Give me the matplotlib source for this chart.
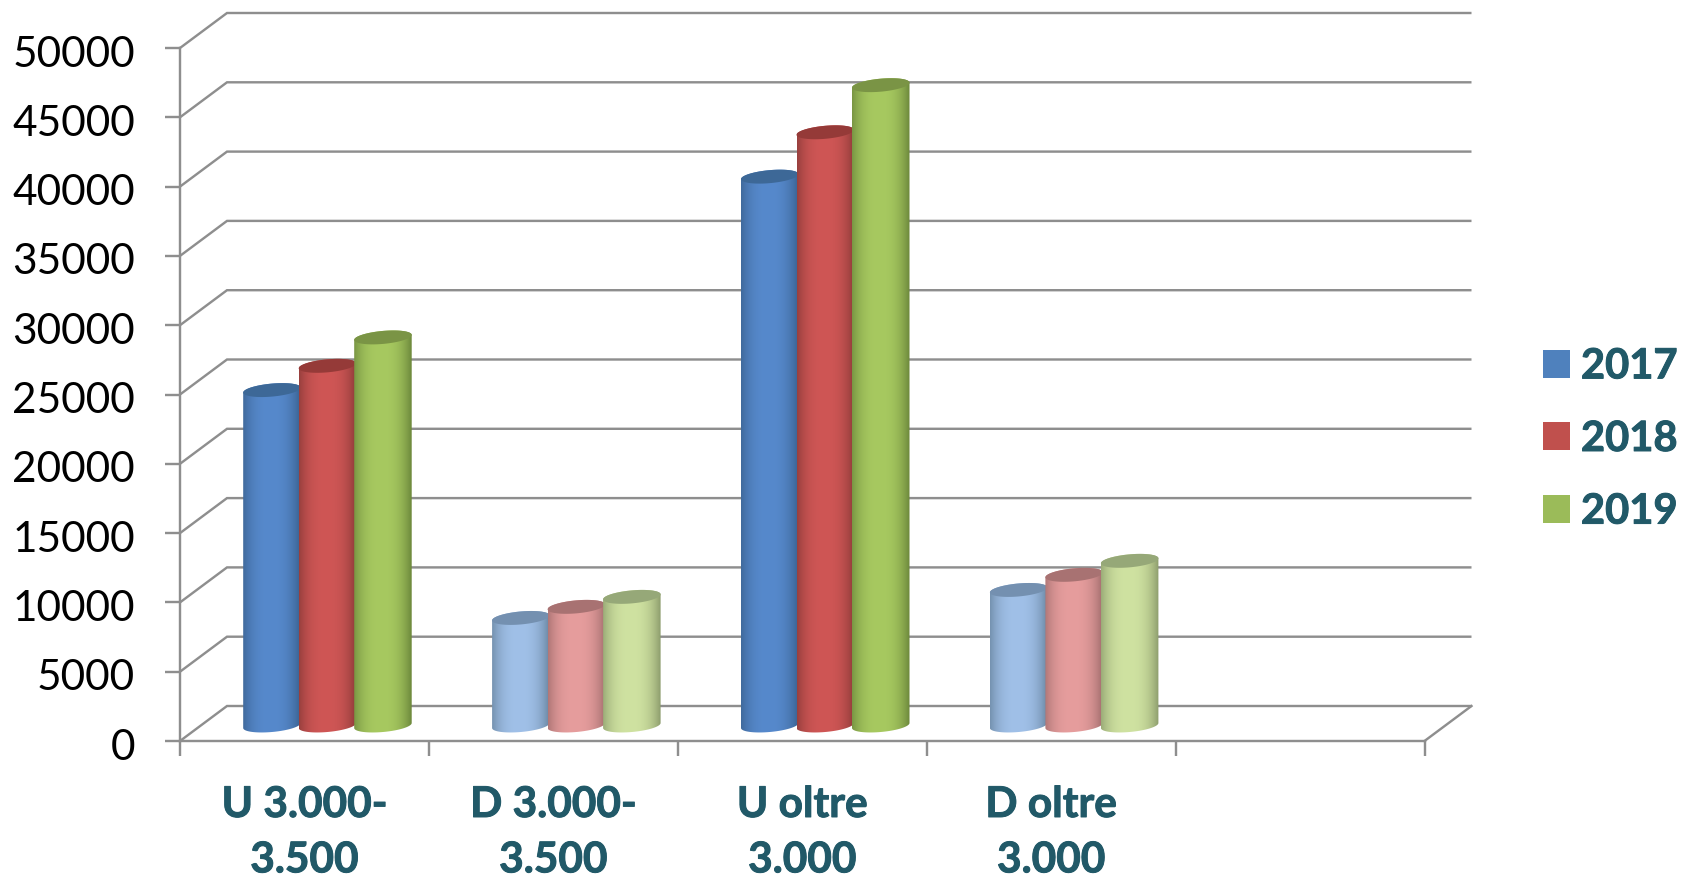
import numpy as np
import matplotlib
matplotlib.use("Agg")
import matplotlib.pyplot as plt
import matplotlib.patheffects as pe
from matplotlib.patches import Polygon, Patch
from matplotlib.transforms import ScaledTranslation

categories = ["U 3.000-\n3.500", "D 3.000-\n3.500", "U oltre\n3.000", "D oltre\n3.000", ""]
years = ["2017", "2018", "2019"]
values_2017 = [24200, 7760, 39600, 9780]
values_2018 = [25950, 8560, 42800, 10870]
values_2019 = [28000, 9280, 46200, 11880]
y_ticks = list(range(0, 50001, 5000))

W, H = 1683, 879
plt.rcParams['font.family'] = ['Lato', 'DejaVu Sans']
fig = plt.figure(figsize=(W / 100, H / 100), dpi=100, facecolor='white')

X0, X1, Y0, Y1 = 180.0, 1424.5, 742.0, 49.0
ax = fig.add_axes([X0 / W, 1 - Y0 / H, (X1 - X0) / W, (Y0 - Y1) / H])
ax.set_xlim(0, 5)
ax.set_ylim(0, 50000)

px = 5 / (X1 - X0)          # data x per pixel
py = 50000 / (Y0 - Y1)      # data y per pixel
pt = 0.72                   # points per pixel
GRID = '#8E8E8E'
TEXT = '#215968'
LW = 2.4 * pt
FS = 30.5
thick = [pe.withStroke(linewidth=0.7, foreground=TEXT)]

# 3D box
dx, dy = 47 * px, 35 * py
for v in y_ticks:
    ax.plot([0, dx, 5 + dx], [v, v + dy, v + dy], color=GRID, lw=LW, clip_on=False, zorder=1,
            solid_capstyle='butt', solid_joinstyle='miter')
ax.plot([5, 5 + dx], [0, dy], color=GRID, lw=LW, clip_on=False, zorder=1)

for s in ('top', 'right'):
    ax.spines[s].set_visible(False)
for s in ('left', 'bottom'):
    ax.spines[s].set_color(GRID)
    ax.spines[s].set_linewidth(LW)
    ax.spines[s].set_zorder(1.5)

ax.set_yticks(y_ticks)
ylabels = ax.set_yticklabels([str(v) for v in y_ticks], fontsize=FS, color='black')
ax.tick_params(axis='y', length=15 * pt, width=LW, color=GRID, pad=30 * pt)
shift = ScaledTranslation(0, -2 / 100, fig.dpi_scale_trans)
for lab in ylabels:
    lab.set_transform(lab.get_transform() + shift)
ax.set_xticks(range(6))
ax.set_xticklabels([])
ax.tick_params(axis='x', which='major', length=15 * pt, width=LW, color=GRID)
ax.set_xticks(np.arange(5) + 0.5, minor=True)
labels = ax.set_xticklabels(categories, minor=True, fontsize=FS, fontweight='bold', color=TEXT,
                            linespacing=1.56)
for lab in labels:
    lab.set_path_effects(thick)
ax.tick_params(axis='x', which='minor', length=0, pad=45 * pt)

# Cylinder styling
full = [dict(c='#5689CC', e='#39608E', t='#3D6897'),
        dict(c='#CF5655', e='#883937', t='#953A38'),
        dict(c='#A7C960', e='#6B873B', t='#7A9445')]
pale = [dict(c='#A0C0E8', e='#68849F', t='#7490B0'),
        dict(c='#E69D9D', e='#A06C6C', t='#A87272'),
        dict(c='#CFE2A1', e='#8C9C6C', t='#96A878')]
pale_groups = {1, 3}
swatches = ['#4F81BD', '#C0504D', '#9BBB59']

BW = 57.5 * px       # cylinder width
STEP = 55.5 * px     # spacing between cylinders
A = BW / 2
B = 6.5 * py
K = 2.5 * py         # tilt of the ellipse
BASE = 15.5 * py     # height of base above the front floor line
GX = 23 * px         # shift of the group into the depth


def rgb(h):
    return np.array(matplotlib.colors.to_rgb(h))


def cylinder(cx, val, st, z):
    th = np.linspace(0, 2 * np.pi, 121)
    lo = np.linspace(np.pi, 2 * np.pi, 60)
    hi = np.linspace(0, np.pi, 60)
    x_low = cx + A * np.cos(lo)
    y_low = BASE + B * np.sin(lo) + K * np.cos(lo)
    x_top = cx + A * np.cos(hi)
    y_top = BASE + val + B * np.sin(hi) + K * np.cos(hi)
    poly = Polygon(np.c_[np.r_[x_low, x_top], np.r_[y_low, y_top]],
                   closed=True, transform=ax.transData, fc='none', ec='none')
    ax.add_patch(poly)
    t = np.linspace(-1, 1, 120)
    m = 1 - np.clip(np.abs(t + 0.05) / 1.05, 0, 1) ** 2.6
    m = m[None, :, None]
    img = rgb(st['e'])[None, None, :] * (1 - m) + rgb(st['c'])[None, None, :] * m
    im = ax.imshow(img, extent=[cx - A, cx + A, 0, BASE + val + 2 * B], aspect='auto',
                   zorder=z, interpolation='bilinear', origin='lower')
    im.set_clip_path(poly)
    ax.fill(cx + A * np.cos(th), BASE + val + B * np.sin(th) + K * np.cos(th),
            fc=st['t'], ec='none', zorder=z + 0.01, clip_on=False)


series = [values_2017, values_2018, values_2019]
for g in range(4):
    styles = pale if g in pale_groups else full
    centre = g + 0.5 + GX
    for i, vals in enumerate(series):
        cylinder(centre + (i - 1) * STEP, vals[g], styles[i], 3 + i)

ax.set_xlim(0, 5)
ax.set_ylim(0, 50000)

handles = [Patch(fc=c, ec='none') for c in swatches]
leg = fig.legend(handles, years, loc='center left', bbox_to_anchor=(1543 / W, 1 - 440 / H),
                 frameon=False, prop=dict(family='Lato', weight='bold', size=30),
                 handlelength=0.65, handleheight=0.65, handletextpad=0.26,
                 labelspacing=0.83, borderpad=0, borderaxespad=0)
for tx in leg.get_texts():
    tx.set_color(TEXT)
    tx.set_path_effects(thick)

fig.savefig('out.png', dpi=100, facecolor='white')
